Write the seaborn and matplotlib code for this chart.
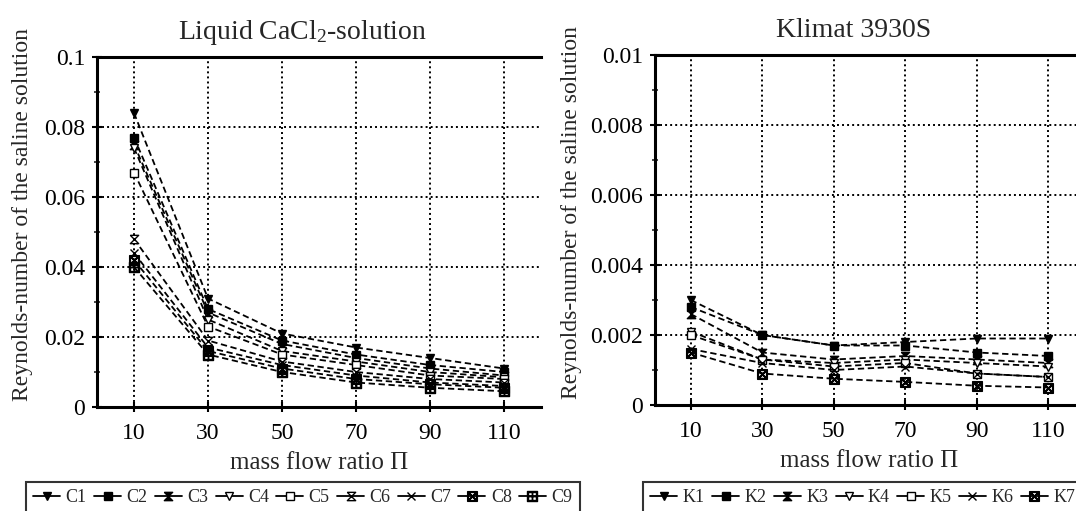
import matplotlib
matplotlib.use("Agg")
import matplotlib.pyplot as plt
import numpy as np
import pandas as pd
import seaborn as sns
from matplotlib.ticker import FixedLocator, FuncFormatter, MultipleLocator

# data
mass_flow = [10, 30, 50, 70, 90, 110]

cacl2_names = ["C1", "C2", "C3", "C4", "C5", "C6", "C7", "C8", "C9"]
C1 = [0.084, 0.031, 0.021, 0.017, 0.014, 0.011]
C2 = [0.077, 0.028, 0.019, 0.015, 0.012, 0.010]
C3 = [0.075, 0.027, 0.018, 0.014, 0.011, 0.009]
C4 = [0.074, 0.025, 0.016, 0.013, 0.010, 0.0085]
C5 = [0.067, 0.023, 0.015, 0.012, 0.009, 0.008]
C6 = [0.048, 0.019, 0.013, 0.010, 0.008, 0.007]
C7 = [0.044, 0.017, 0.012, 0.009, 0.007, 0.006]
C8 = [0.042, 0.016, 0.011, 0.008, 0.0065, 0.0055]
C9 = [0.040, 0.015, 0.010, 0.007, 0.0055, 0.0045]

klimat_names = ["K1", "K2", "K3", "K4", "K5", "K6", "K7"]
K1 = [0.0030, 0.0020, 0.0017, 0.0018, 0.0019, 0.0019]
K2 = [0.0028, 0.0020, 0.0017, 0.0017, 0.0015, 0.0014]
K3 = [0.0026, 0.0015, 0.0013, 0.0014, 0.0013, 0.0012]
K4 = [0.0021, 0.0013, 0.0012, 0.0013, 0.0012, 0.0011]
K5 = [0.0020, 0.0013, 0.0011, 0.0012, 0.0009, 0.0008]
K6 = [0.0016, 0.0012, 0.0010, 0.0011, 0.0009, 0.0008]
K7 = [0.0015, 0.0009, 0.00075, 0.00066, 0.00055, 0.0005]

sns.set_theme(style="ticks")
plt.rcParams["font.family"] = ["Liberation Serif", "DejaVu Serif"]
plt.rcParams["mathtext.fontset"] = "custom"
plt.rcParams["mathtext.rm"] = "Liberation Serif"
plt.rcParams["mathtext.it"] = "Liberation Serif:italic"

HOURGLASS = [(-1, 1), (1, 1), (-1, -1), (1, -1), (-1, 1)]

# marker, filled?
cacl2_markers = {
    "C1": ("v", True), "C2": ("s", True), "C3": (HOURGLASS, True),
    "C4": ("v", False), "C5": ("s", False), "C6": (HOURGLASS, False),
    "C7": ("x", False), "C8": ("$\\boxtimes$", False), "C9": ("$\\boxplus$", False),
}
klimat_markers = {
    "K1": ("v", True), "K2": ("s", True), "K3": (HOURGLASS, True),
    "K4": ("v", False), "K5": ("s", False), "K6": ("x", False),
    "K7": ("$\\boxtimes$", False),
}


def long_frame(names, series):
    rows = []
    for name, vals in zip(names, series):
        for x, v in zip(mass_flow, vals):
            rows.append({"series": name, "ratio": x, "re": v})
    return pd.DataFrame(rows)


def draw_panel(ax, df, markers, ymax, ystep, title):
    for name, (m, filled) in markers.items():
        sub = df[df["series"] == name]
        sns.lineplot(
            data=sub, x="ratio", y="re", ax=ax, label=name,
            color="black", linestyle=(0, (3.5, 2)), linewidth=1.3,
            marker=m, markersize=7 if isinstance(m, str) and m.startswith("$") else 6,
            markerfacecolor="black" if filled else "white",
            markeredgecolor="black", markeredgewidth=1.0,
        )
    ax.set_xlim(0, 120)
    ax.set_ylim(0, ymax)
    ax.xaxis.set_major_locator(FixedLocator(mass_flow))
    ax.yaxis.set_major_locator(MultipleLocator(ystep))
    ax.yaxis.set_minor_locator(MultipleLocator(ystep / 2))
    ax.yaxis.set_major_formatter(FuncFormatter(lambda v, p: "0" if v == 0 else f"{v:g}"))
    ax.grid(True, which="major", color="black", linestyle=(0, (1, 1.6)), linewidth=1.4)
    ax.tick_params(axis="both", which="major", direction="inout", length=7, width=1.5,
                   labelsize=17, colors="black")
    ax.tick_params(axis="x", which="major", pad=8)
    ax.tick_params(axis="y", which="major", pad=5)
    ax.tick_params(axis="y", which="minor", direction="inout", length=5, width=1.2)
    ax.spines["right"].set_visible(False)
    for side in ("left", "bottom", "top"):
        ax.spines[side].set_linewidth(2.2)
        ax.spines[side].set_color("black")
    ax.set_xlabel("mass flow ratio Π", fontsize=18, labelpad=6)
    ax.set_ylabel("Reynolds-number of the saline solution", fontsize=17)
    ax.set_title(title, fontsize=20, x=0.463, pad=13)
    ax.get_legend().remove()


fig = plt.figure(figsize=(10.76, 5.11), dpi=100)
ax_left = fig.add_axes([97 / 1076, 1 - 407 / 511, 444 / 1076, 350 / 511])
ax_right = fig.add_axes([655 / 1076, 1 - 405 / 511, 429 / 1076, 350 / 511])

df_c = long_frame(cacl2_names, [C1, C2, C3, C4, C5, C6, C7, C8, C9])
df_k = long_frame(klimat_names, [K1, K2, K3, K4, K5, K6, K7])

draw_panel(ax_left, df_c, cacl2_markers, 0.1, 0.02, "Liquid CaCl$_\\mathrm{2}$-solution")
draw_panel(ax_right, df_k, klimat_markers, 0.01, 0.002, "Klimat 3930S")
ax_left.yaxis.set_label_coords(-0.145, 0.55)
ax_right.yaxis.set_label_coords(-0.17, 0.55)

for ax, ncol, x0 in ((ax_left, 9, 26 / 1076), (ax_right, 7, 643 / 1076)):
    handles, labels = ax.get_legend_handles_labels()
    leg = fig.legend(
        handles, labels, loc="upper left", bbox_to_anchor=(x0, 1 - 482 / 511),
        ncol=ncol, fontsize=13, frameon=True, fancybox=False, edgecolor="black",
        handlelength=1.5, handletextpad=0.3, columnspacing=0.4, borderpad=0.4,
        borderaxespad=0,
    )
    leg.get_frame().set_linewidth(1.5)
    for line in leg.get_lines():
        line.set_linestyle("-")

fig.savefig("out.png", dpi=100)
